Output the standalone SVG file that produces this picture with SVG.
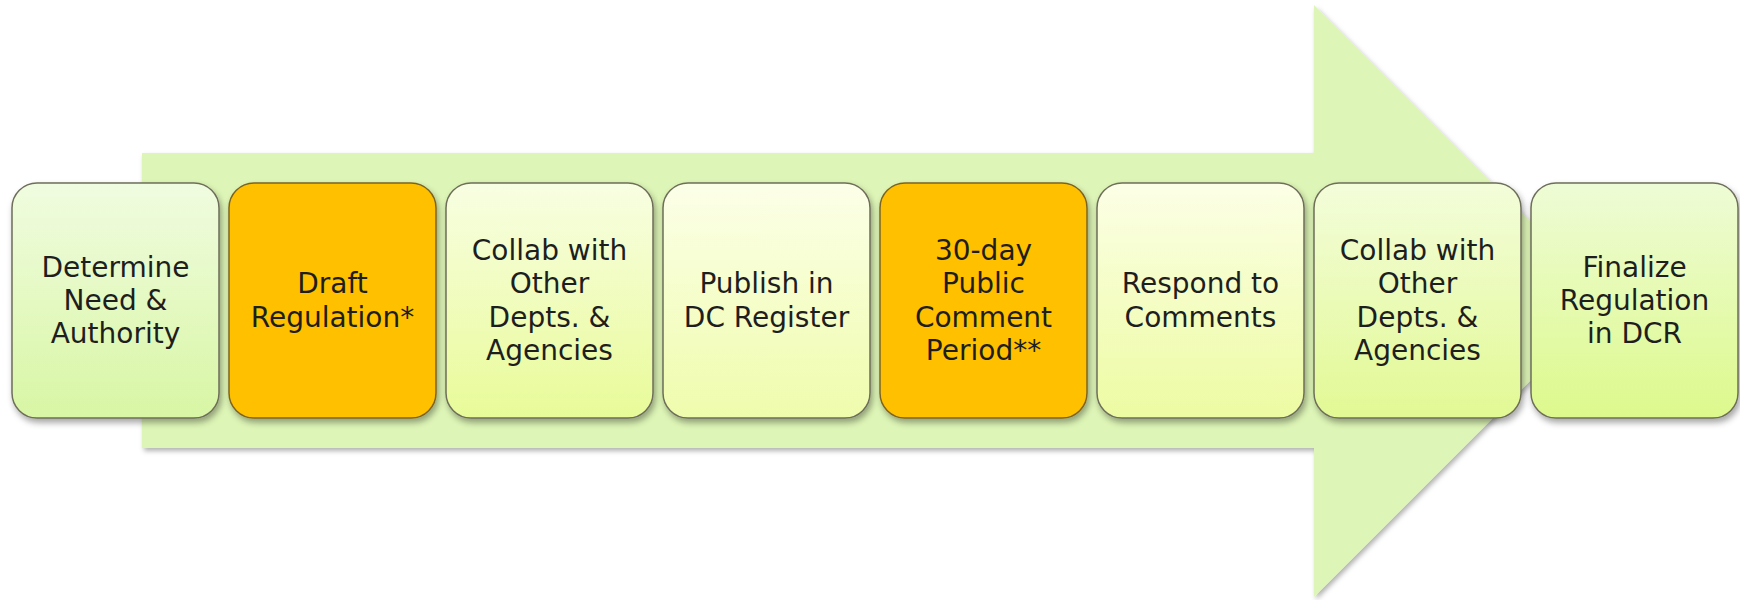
<svg xmlns="http://www.w3.org/2000/svg" width="1740" height="600" viewBox="0 0 1740 600">
  <defs>
    <filter id="shadow" x="-10%" y="-10%" width="125%" height="130%">
      <feDropShadow dx="2" dy="4" stdDeviation="3" flood-color="#000" flood-opacity="0.35"/>
    </filter>
    <filter id="arrowShadow" x="-5%" y="-5%" width="110%" height="115%">
      <feDropShadow dx="2" dy="3" stdDeviation="2.5" flood-color="#000" flood-opacity="0.3"/>
    </filter>
    <linearGradient id="g1" x1="0" y1="0" x2="0" y2="1">
      <stop offset="0" stop-color="#f0fce0"/>
      <stop offset="1" stop-color="#d8f6a4"/>
    </linearGradient>
    <linearGradient id="g3" x1="0" y1="0" x2="0" y2="1">
      <stop offset="0" stop-color="#f8fee2"/>
      <stop offset="1" stop-color="#e8fb98"/>
    </linearGradient>
    <linearGradient id="g4" x1="0" y1="0" x2="0" y2="1">
      <stop offset="0" stop-color="#fcffe8"/>
      <stop offset="1" stop-color="#effcac"/>
    </linearGradient>
    <linearGradient id="g6" x1="0" y1="0" x2="0" y2="1">
      <stop offset="0" stop-color="#fcffe6"/>
      <stop offset="1" stop-color="#edfba2"/>
    </linearGradient>
    <linearGradient id="g7" x1="0" y1="0" x2="0" y2="1">
      <stop offset="0" stop-color="#f3fdda"/>
      <stop offset="1" stop-color="#e2f994"/>
    </linearGradient>
    <linearGradient id="g8" x1="0" y1="0" x2="0" y2="1">
      <stop offset="0" stop-color="#eefcd6"/>
      <stop offset="1" stop-color="#ddf98c"/>
    </linearGradient>
  </defs>
  <style>
    .step { stroke: #6e6e5a; stroke-width: 1.5; filter: url(#shadow); }
    .hot { fill: #ffc000; stroke: #7d6420; }
    .label { font-family: "DejaVu Sans", Verdana, sans-serif; font-size: 28px; fill: #1e1e1e; text-anchor: middle; }
  </style>

  <rect width="1740" height="600" fill="#ffffff"/>

  <!-- background process arrow -->
  <g id="connectors">
    <path d="M142,153 H1314 V5 L1610,301 L1314,597 V448 H142 Z" fill="#ddf5b6" filter="url(#arrowShadow)"/>
  </g>

  <g id="step1">
    <rect class="step" x="12" y="183" width="207" height="235" rx="25" fill="url(#g1)"/>
    <text class="label" x="115.5" y="277">Determine</text>
    <text class="label" x="115.5" y="310">Need &amp;</text>
    <text class="label" x="115.5" y="343">Authority</text>
  </g>

  <g id="step2">
    <rect class="step hot" x="229" y="183" width="207" height="235" rx="25"/>
    <text class="label" x="332.5" y="293">Draft</text>
    <text class="label" x="332.5" y="327">Regulation*</text>
  </g>

  <g id="step3">
    <rect class="step" x="446" y="183" width="207" height="235" rx="25" fill="url(#g3)"/>
    <text class="label" x="549.5" y="260">Collab with</text>
    <text class="label" x="549.5" y="293">Other</text>
    <text class="label" x="549.5" y="327">Depts. &amp;</text>
    <text class="label" x="549.5" y="360">Agencies</text>
  </g>

  <g id="step4">
    <rect class="step" x="663" y="183" width="207" height="235" rx="25" fill="url(#g4)"/>
    <text class="label" x="766.5" y="293">Publish in</text>
    <text class="label" x="766.5" y="327">DC Register</text>
  </g>

  <g id="step5">
    <rect class="step hot" x="880" y="183" width="207" height="235" rx="25"/>
    <text class="label" x="983.5" y="260">30-day</text>
    <text class="label" x="983.5" y="293">Public</text>
    <text class="label" x="983.5" y="327">Comment</text>
    <text class="label" x="983.5" y="360">Period**</text>
  </g>

  <g id="step6">
    <rect class="step" x="1097" y="183" width="207" height="235" rx="25" fill="url(#g6)"/>
    <text class="label" x="1200.5" y="293">Respond to</text>
    <text class="label" x="1200.5" y="327">Comments</text>
  </g>

  <g id="step7">
    <rect class="step" x="1314" y="183" width="207" height="235" rx="25" fill="url(#g7)"/>
    <text class="label" x="1417.5" y="260">Collab with</text>
    <text class="label" x="1417.5" y="293">Other</text>
    <text class="label" x="1417.5" y="327">Depts. &amp;</text>
    <text class="label" x="1417.5" y="360">Agencies</text>
  </g>

  <g id="step8">
    <rect class="step" x="1531" y="183" width="207" height="235" rx="25" fill="url(#g8)"/>
    <text class="label" x="1634.5" y="277">Finalize</text>
    <text class="label" x="1634.5" y="310">Regulation</text>
    <text class="label" x="1634.5" y="343">in DCR</text>
  </g>
</svg>
